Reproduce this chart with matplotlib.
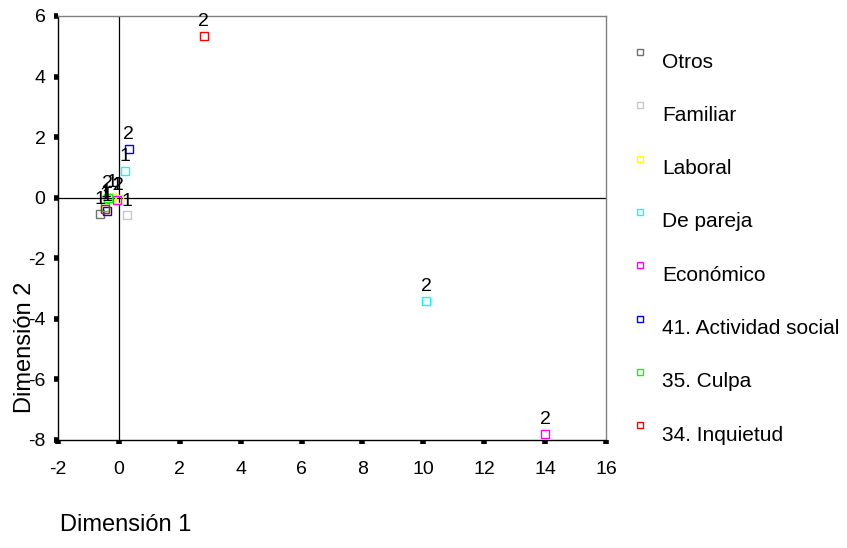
import matplotlib
matplotlib.use('Agg')
import matplotlib.pyplot as plt
from matplotlib.lines import Line2D

plt.rcParams['font.family'] = ['Liberation Sans', 'DejaVu Sans']
plt.rcParams['axes.unicode_minus'] = False

# Categorías (orden de la leyenda) y colores
categorias = ['Otros', 'Familiar', 'Laboral', 'De pareja', 'Económico',
              '41. Actividad social', '35. Culpa', '34. Inquietud']
colores = ['#707070', '#c8c8c8', '#ffff00', '#00ffff', '#ff00ff',
           '#0000ff', '#00ff00', '#ff0000']

# Coordenadas (Dimensión 1, Dimensión 2) y etiquetas de cada punto
otros_x, otros_y, otros_lab = [-0.62], [-0.53], ['1']
familiar_x, familiar_y, familiar_lab = [0.25], [-0.58], ['1']
laboral_x, laboral_y, laboral_lab = [-0.22, 0.0], [0.02, -0.05], ['1', '2']
pareja_x, pareja_y, pareja_lab = [0.2, 10.1], [0.89, -3.4], ['1', '2']
economico_x, economico_y, economico_lab = [-0.06, 14.0], [-0.07, -7.8], ['1', '2']
social_x, social_y, social_lab = [-0.40, 0.33], [-0.44, 1.62], ['1', '2']
culpa_x, culpa_y, culpa_lab = [-0.44, -0.36], [-0.31, 0.0], ['1', '2']
inquietud_x, inquietud_y, inquietud_lab = [-0.46, 2.79], [-0.36, 5.35], ['1', '2']

series = [
    (otros_x, otros_y, otros_lab),
    (familiar_x, familiar_y, familiar_lab),
    (laboral_x, laboral_y, laboral_lab),
    (pareja_x, pareja_y, pareja_lab),
    (economico_x, economico_y, economico_lab),
    (social_x, social_y, social_lab),
    (culpa_x, culpa_y, culpa_lab),
    (inquietud_x, inquietud_y, inquietud_lab),
]

W, H = 847, 548
fig = plt.figure(figsize=(W / 100, H / 100), dpi=100)
ax = fig.add_axes([58 / W, 1 - 440 / H, (606 - 58) / W, (440 - 16) / H])

ax.axhline(0, color='black', lw=0.9, zorder=1)
ax.axvline(0, color='black', lw=0.9, zorder=1)

for (xs, ys, labs), col in zip(series, colores):
    ax.plot(xs, ys, linestyle='none', marker='s', markersize=6,
            markerfacecolor='none', markeredgecolor=col, markeredgewidth=1,
            zorder=3)
    for x, y, t in zip(xs, ys, labs):
        ax.annotate(t, (x, y), xytext=(0, 7), textcoords='offset points',
                    ha='center', va='baseline', fontsize=14, zorder=4)

ax.set_xlim(-2, 16)
ax.set_ylim(-8, 6)
ax.set_xticks(range(-2, 17, 2))
ax.set_yticks(range(-8, 7, 2))
ax.tick_params(direction='out', length=3, width=4, labelsize=14)
ax.tick_params(axis='x', pad=12)
ax.tick_params(axis='y', pad=6)

ax.spines['left'].set_color('black')
ax.spines['bottom'].set_color('black')
ax.spines['top'].set_color('#808080')
ax.spines['right'].set_color('#808080')
for s in ax.spines.values():
    s.set_linewidth(1)

# Títulos de los ejes
fig.text(25 / W, 1 - 347 / H, 'Dimensión 2', rotation=90, fontsize=17,
         ha='center', va='center')
fig.text(60 / W, 1 - 525 / H, 'Dimensión 1', fontsize=17,
         ha='left', va='center')

# Leyenda manual
for i, (cat, col) in enumerate(zip(categorias, colores)):
    yc = 62 + i * 53.3
    fig.add_artist(Line2D([640 / W], [1 - (yc - 10) / H], marker='s',
                          markersize=5, markerfacecolor='none',
                          markeredgecolor=col, markeredgewidth=1,
                          transform=fig.transFigure))
    fig.text(662 / W, 1 - yc / H, cat, fontsize=15, ha='left', va='center')

fig.savefig('out.png', dpi=100)
